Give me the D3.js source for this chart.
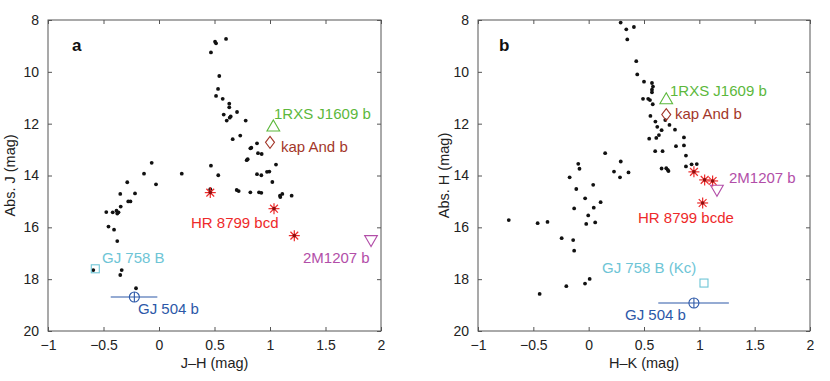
<!DOCTYPE html>
<html><head><meta charset="utf-8">
<script src="https://cdn.jsdelivr.net/npm/d3@7"></script>
<style>body{margin:0;background:#fff}svg{display:block;font-family:"Liberation Sans",Arial,Helvetica,sans-serif}</style>
</head><body><svg id="c" width="830" height="381"></svg>
<script>
// Panel a: field brown dwarfs, J-H vs Abs J
const jhX = [0.505,0.514,0.604,0.468,0.543,0.532,0.514,0.574,0.633,0.633,0.703,0.583,0.646,0.637,0.610,0.781,0.664,0.732,0.823,0.832,0.883,0.892,0.925,0.799,0.790,1.054,0.973,0.994,0.883,0.922,1.021,0.468,0.534,-0.066,-0.135,0.205,-0.286,-0.027,0.462,0.700,0.718,0.823,0.901,0.922,1.090,1.111,1.195,1.093,-0.349,-0.216,-0.277,-0.257,-0.345,-0.475,-0.417,-0.383,-0.365,-0.376,-0.455,-0.405,-0.376,-0.592,-0.336,-0.349,-0.207];
const absJ = [8.84,8.90,8.73,9.25,10.16,10.66,10.93,11.04,11.23,11.37,11.55,11.65,11.72,11.77,11.88,11.88,12.60,12.46,12.95,12.93,12.76,13.14,13.17,13.37,13.41,13.58,13.86,13.85,13.95,13.99,14.25,13.62,13.99,13.51,13.93,13.93,14.26,14.34,14.53,14.56,14.60,14.65,14.65,14.67,14.78,14.71,14.78,14.83,14.71,14.69,15.00,15.00,15.20,15.41,15.42,15.36,15.42,15.47,15.97,16.09,16.53,17.65,17.65,17.84,18.35];
// Panel b: H-K vs Abs H
const hkX = [0.289,0.340,0.409,0.349,0.430,0.439,0.500,0.572,0.581,0.572,0.572,0.491,0.538,0.554,0.579,0.558,0.603,0.692,0.730,0.620,0.659,0.780,0.635,0.611,0.547,0.861,0.789,0.861,0.601,0.668,0.879,0.879,0.930,0.977,0.659,0.701,0.714,0.721,0.149,0.290,-0.094,-0.083,0.229,0.360,0.283,-0.172,0.041,-0.112,-0.032,0.108,0.046,-0.131,-0.004,-0.022,0.059,-0.722,-0.461,-0.372,-0.244,-0.140,-0.131,0.009,-0.033,-0.202,-0.443];
const absH = [8.10,8.36,8.27,8.75,9.59,10.10,10.38,10.43,10.57,10.69,10.79,11.04,11.04,11.09,11.25,11.70,11.92,11.86,12.05,12.12,12.25,12.23,12.44,12.55,12.58,12.53,12.87,12.84,13.06,13.06,13.23,13.65,13.57,13.56,13.73,13.72,13.78,13.83,13.14,13.46,13.55,13.74,13.85,13.88,14.07,14.07,14.36,14.52,14.88,15.03,15.24,15.27,15.54,15.87,15.81,15.72,15.84,15.79,16.42,16.49,16.90,17.99,18.17,18.27,18.57];

// Named companions: [x, y] per panel
const hr8799A = [[0.462,14.66],[1.036,15.28],[1.219,16.32]];
const hr8799B = [[0.951,13.86],[1.048,14.17],[1.120,14.21],[1.030,15.06]];
const j1609A = [1.030,12.14], j1609B = [0.701,11.09];
const kapAndA = [1.000,12.72], kapAndB = [0.701,11.65];
const m1207A = [1.910,16.46], m1207B = [1.159,14.52];
const gj758A = [-0.574,17.60], gj758B = [1.042,18.15];
const gj504A = [-0.222,18.69], gj504B = [0.951,18.92];
const gj504ErrA = [-0.435,-0.015], gj504ErrB = [0.629,1.267];

const xTicks = [-1,-0.5,0,0.5,1,1.5,2];
const yTicks = [8,10,12,14,16,18,20];
const xTickLabels = ["\u22121","\u22120.5","0","0.5","1","1.5","2"];

const C = {green:"#5cb83c", brown:"#a3372a", red:"#ee2a2a", mag:"#b24ea8", cyan:"#6ec5d6", blue:"#2c58a8"};

const svg = d3.select("#c");

function panel(cfg){
  const g = svg.append("g").attr("transform",`translate(${cfg.left},${cfg.top})`);
  const W = cfg.w, H = cfg.h;
  const x = d3.scaleLinear().domain([-1,2]).range([0,W]);
  const y = d3.scaleLinear().domain([8,20]).range([0,H]);
  const tl = 4;
  g.append("rect").attr("width",W).attr("height",H).attr("fill","none").attr("stroke","#555").attr("stroke-width",1);
  const fmtX = (d,i)=>xTickLabels[i];
  const ax = g.append("g").attr("transform",`translate(0,${H})`).call(d3.axisBottom(x).tickValues(xTicks).tickFormat(fmtX).tickSizeInner(-tl).tickSizeOuter(0).tickPadding(9));
  const axT = g.append("g").call(d3.axisTop(x).tickValues(xTicks).tickFormat("").tickSizeInner(-tl).tickSizeOuter(0));
  const ay = g.append("g").call(d3.axisLeft(y).tickValues(yTicks).tickSizeInner(-tl).tickSizeOuter(0).tickPadding(9));
  const ayR = g.append("g").attr("transform",`translate(${W},0)`).call(d3.axisRight(y).tickValues(yTicks).tickFormat("").tickSizeInner(-tl).tickSizeOuter(0));
  [ax,axT,ay,ayR].forEach(a=>{a.select(".domain").remove();a.selectAll("line").attr("stroke","#555");a.selectAll("text").attr("font-size",14).attr("fill","#222").attr("font-family",null);});

  g.selectAll("circle.dot").data(d3.zip(cfg.xs,cfg.ys)).join("circle").attr("class","dot")
    .attr("cx",d=>x(d[0])).attr("cy",d=>y(d[1])).attr("r",1.9).attr("fill","#111");

  cfg.hr.forEach(p=>{
    const s = g.append("g").attr("transform",`translate(${x(p[0])},${y(p[1])})`);
    const r=5.5;
    for(let k=0;k<4;k++){const a=k*Math.PI/4; s.append("line").attr("x1",-r*Math.cos(a)).attr("y1",-r*Math.sin(a)).attr("x2",r*Math.cos(a)).attr("y2",r*Math.sin(a)).attr("stroke",C.red).attr("stroke-width",1.2);}
    s.append("circle").attr("r",1.8).attr("fill","#8b1010");
  });
  const tri = d3.symbol().type(d3.symbolTriangle).size(70);
  g.append("path").attr("d",tri()).attr("transform",`translate(${x(cfg.j1609[0])},${y(cfg.j1609[1])})`).attr("fill","none").attr("stroke",C.green).attr("stroke-width",1.1);
  g.append("path").attr("transform",`translate(${x(cfg.kap[0])},${y(cfg.kap[1])})`)
    .attr("d","M0,-6L4.5,0L0,6L-4.5,0Z").attr("fill","none").attr("stroke",C.brown).attr("stroke-width",1.1);
  g.append("path").attr("d",tri()).attr("transform",`translate(${x(cfg.m1207[0])},${y(cfg.m1207[1])}) rotate(180)`).attr("fill","none").attr("stroke",C.mag).attr("stroke-width",1.1);
  g.append("rect").attr("x",x(cfg.gj758[0])-4).attr("y",y(cfg.gj758[1])-4).attr("width",8).attr("height",8).attr("fill","none").attr("stroke",C.cyan).attr("stroke-width",1.1);
  const gx=x(cfg.gj504[0]), gy=y(cfg.gj504[1]);
  g.append("line").attr("x1",x(cfg.gj504err[0])).attr("x2",x(cfg.gj504err[1])).attr("y1",gy).attr("y2",gy).attr("stroke",C.blue).attr("stroke-width",1.1);
  g.append("circle").attr("cx",gx).attr("cy",gy).attr("r",5).attr("fill","none").attr("stroke",C.blue).attr("stroke-width",1.1);
  g.append("line").attr("x1",gx).attr("x2",gx).attr("y1",gy-5).attr("y2",gy+5).attr("stroke",C.blue).attr("stroke-width",1.1);

  cfg.labels.forEach(l=>{
    g.append("text").attr("x",l[0]-cfg.left).attr("y",l[1]-cfg.top).attr("fill",l[3]).attr("font-size",15).text(l[2]);
  });
  g.append("text").attr("x",cfg.letter[0]-cfg.left).attr("y",cfg.letter[1]-cfg.top).attr("font-size",17).attr("font-weight","bold").attr("fill","#111").text(cfg.letter[2]);
  g.append("text").attr("x",W/2).attr("y",cfg.xlabY-cfg.top).attr("text-anchor","middle").attr("font-size",14.5).attr("fill","#222").text(cfg.xlab);
  g.append("text").attr("transform",`translate(${cfg.ylabX-cfg.left},${H/2}) rotate(-90)`).attr("text-anchor","middle").attr("font-size",14.5).attr("fill","#222").text(cfg.ylab);
}

panel({left:48, top:20, w:333, h:311, xs:jhX, ys:absJ, hr:hr8799A, j1609:j1609A, kap:kapAndA, m1207:m1207A, gj758:gj758A, gj504:gj504A, gj504err:gj504ErrA,
  letter:[72,51,"a"], xlab:"J\u2013H (mag)", xlabY:368, ylab:"Abs. J (mag)", ylabX:15,
  labels:[[274,119,"1RXS J1609 b",C.green],[281,152,"kap And b",C.brown],[191,228,"HR 8799 bcd",C.red],[303,263,"2M1207 b",C.mag],[102,263,"GJ 758 B",C.cyan],[138,314,"GJ 504 b",C.blue]]});

panel({left:478, top:20, w:332, h:311, xs:hkX, ys:absH, hr:hr8799B, j1609:j1609B, kap:kapAndB, m1207:m1207B, gj758:gj758B, gj504:gj504B, gj504err:gj504ErrB,
  letter:[499,51,"b"], xlab:"H\u2013K (mag)", xlabY:368, ylab:"Abs. H (mag)", ylabX:449,
  labels:[[670,96,"1RXS J1609 b",C.green],[675,119,"kap And b",C.brown],[638,223,"HR 8799 bcde",C.red],[729,183,"2M1207 b",C.mag],[602,273,"GJ 758 B (Kc)",C.cyan],[625,320,"GJ 504 b",C.blue]]});
</script></body></html>
